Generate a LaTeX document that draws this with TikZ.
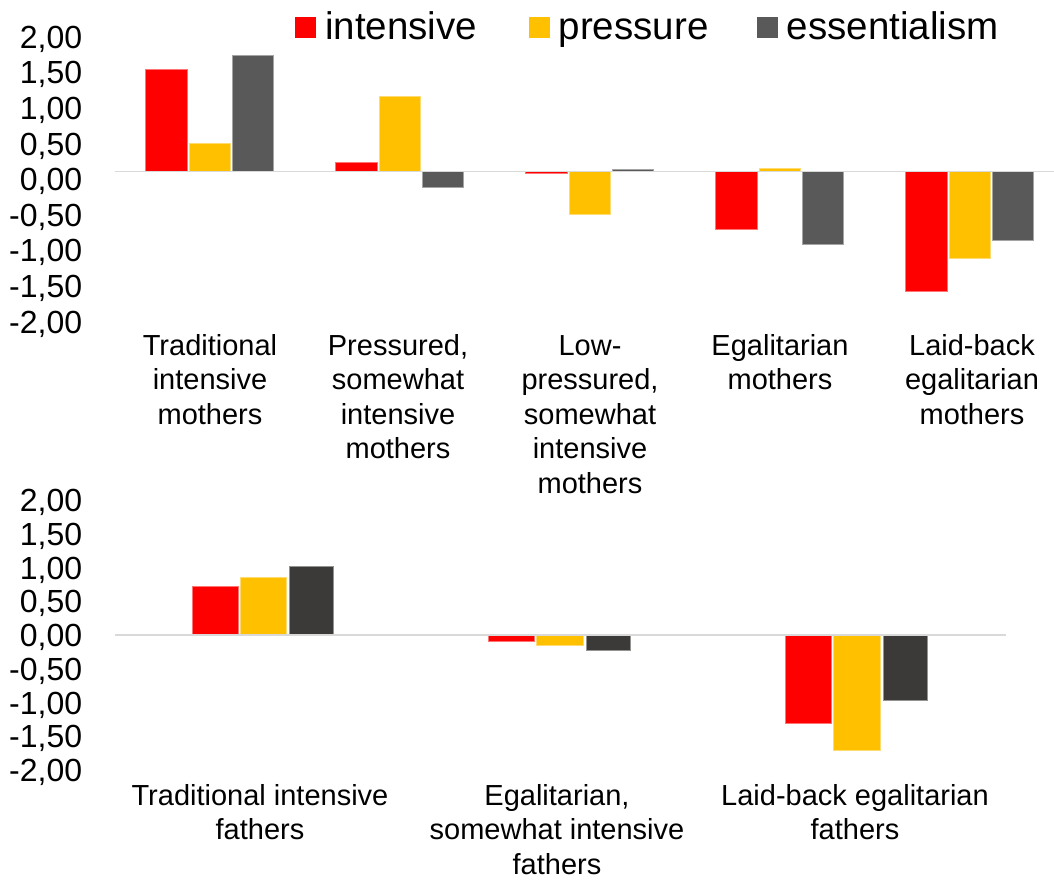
\documentclass[tikz,border=0pt]{standalone}
\usepackage{fontspec}
\setmainfont{Liberation Sans}
\definecolor{cred}{HTML}{FF0000}
\definecolor{cyel}{HTML}{FFC000}
\definecolor{cgray}{HTML}{595959}
\definecolor{cdark}{HTML}{3B3A38}
\definecolor{caxis}{HTML}{D9D9D9}
\begin{document}
\begin{tikzpicture}[x=1pt,y=-1pt,
  redbar/.style={fill=cred,draw=cred!55!white,line width=0.7pt},
  yelbar/.style={fill=cyel,draw=cyel!55!white,line width=0.7pt},
  graybar/.style={fill=cgray,draw=cgray!55!white,line width=0.7pt},
  darkbar/.style={fill=cdark,draw=cdark!55!white,line width=0.7pt},
  axisline/.style={draw=caxis,line width=1.5pt},
  ylab/.style={anchor=base east,inner sep=0pt,font=\fontsize{32}{36}\selectfont},
  catlab/.style={anchor=north,inner sep=0pt,align=center,font=\fontsize{29}{34.5}\selectfont},
  legbox/.style={inner sep=0pt,minimum size=21pt,anchor=north west},
  legtxt/.style={anchor=base west,inner sep=0pt,font=\fontsize{38.5}{42}\selectfont}]
\useasboundingbox (0,0) rectangle (1054,882);
% ---------- legend ----------
\node[legbox,fill=cred] (lb1) at (294.3,16.7) {};
\node[legtxt] (lt1) at (325,40) {intensive};
\node[legbox,fill=cyel] (lb2) at (529,16.7) {};
\node[legtxt] (lt2) at (558.5,40) {pressure};
\node[legbox,fill=cgray] (lb3) at (756.7,16.7) {};
\node[legtxt] (lt3) at (786.7,40) {essentialism};
% ---------- top chart ----------
\node[ylab] (ta0) at (82.3,48.3) {2,00};
\node[ylab] (ta1) at (82.3,83.9) {1,50};
\node[ylab] (ta2) at (82.3,119.5) {1,00};
\node[ylab] (ta3) at (82.3,155.1) {0,50};
\node[ylab] (ta4) at (82.3,190.7) {0,00};
\node[ylab] (ta5) at (82.3,226.3) {-0,50};
\node[ylab] (ta6) at (82.3,261.9) {-1,00};
\node[ylab] (ta7) at (82.3,297.5) {-1,50};
\node[ylab] (ta8) at (82.3,333.1) {-2,00};
\foreach \c/\r/\ye/\g in {210/69.7/143.3/55.3, 400/162/96.3/187.3, 590/173.3/214.7/169.7, 780/229.3/168/244.7, 970/291.3/258.7/240.3}{
  \path[redbar] (\c-64.5,171.7) rectangle (\c-23,\r);
  \path[yelbar] (\c-21,171.7) rectangle (\c+20.5,\ye);
  \path[graybar] (\c+22.5,171.7) rectangle (\c+63.5,\g);
}
\coordinate (tz0) at (115,171.7);
\coordinate (tz1) at (1054,171.7);
\draw[axisline] (tz0) -- (tz1);
\node[catlab] (tc1) at (210,333.5) {\rule{0pt}{21.5pt}Traditional\\intensive\\mothers};
\node[catlab] (tc2) at (398,333.5) {\rule{0pt}{21.5pt}Pressured,\\somewhat\\intensive\\mothers};
\node[catlab] (tc3) at (590,333.5) {\rule{0pt}{21.5pt}Low-\\pressured,\\somewhat\\intensive\\mothers};
\node[catlab] (tc4) at (780,333.5) {\rule{0pt}{21.5pt}Egalitarian\\mothers};
\node[catlab] (tc5) at (972,333.5) {\rule{0pt}{21.5pt}Laid-back\\egalitarian\\mothers};
% ---------- bottom chart ----------
\node[ylab] (ba0) at (82.3,511.7) {2,00};
\node[ylab] (ba1) at (82.3,545.45) {1,50};
\node[ylab] (ba2) at (82.3,579.2) {1,00};
\node[ylab] (ba3) at (82.3,612.95) {0,50};
\node[ylab] (ba4) at (82.3,646.7) {0,00};
\node[ylab] (ba5) at (82.3,680.45) {-0,50};
\node[ylab] (ba6) at (82.3,714.2) {-1,00};
\node[ylab] (ba7) at (82.3,747.95) {-1,50};
\node[ylab] (ba8) at (82.3,781.7) {-2,00};
\foreach \c/\r/\ye/\g in {263.5/586.7/577.7/566, 560.3/641.3/645/650.7, 857.2/723.3/750.7/700.3}{
  \path[redbar] (\c-71.5,635) rectangle (\c-25.5,\r);
  \path[yelbar] (\c-23.5,635) rectangle (\c+22.8,\ye);
  \path[darkbar] (\c+25.8,635) rectangle (\c+69.8,\g);
}
\coordinate (bz0) at (115,635);
\coordinate (bz1) at (1005.7,635);
\draw[axisline] (bz0) -- (bz1);
\node[catlab] (bc1) at (260,783.5) {\rule{0pt}{21.5pt}Traditional intensive\\fathers};
\node[catlab] (bc2) at (557,783.5) {\rule{0pt}{21.5pt}Egalitarian,\\somewhat intensive\\fathers};
\node[catlab] (bc3) at (855,783.5) {\rule{0pt}{21.5pt}Laid-back egalitarian\\fathers};
\end{tikzpicture}
\end{document}
